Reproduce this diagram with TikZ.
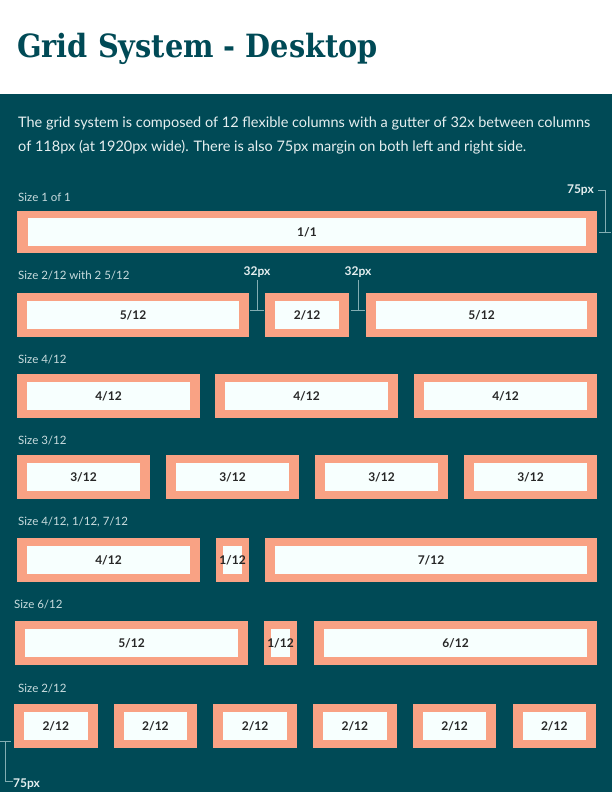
\documentclass[tikz,border=0pt]{standalone}
\usepackage{fontspec}
\setmainfont{Lato}
\newfontfamily\titlefont[FakeStretch=0.9]{DejaVu Serif}
\usetikzlibrary{positioning}

\definecolor{gridteal}{HTML}{004A56}
\definecolor{gutter}{HTML}{F9A284}
\definecolor{colfill}{HTML}{F7FFFE}
\definecolor{bodytext}{HTML}{E6EFF0}
\definecolor{captext}{HTML}{C9DCDE}
\definecolor{dimline}{HTML}{83AEB3}

% name, outer width, inner width, placement, label
\newcommand{\gcell}[5]{%
  \node[cell, minimum width=#2pt, #4] (#1) {};
  \node[cellin, minimum width=#3pt, label={[celltext]center:#5}] (#1-in) at (#1) {};
}

\begin{document}
\begin{tikzpicture}[
    x=1pt, y=-1pt,
    cell/.style={fill=gutter, minimum height=44pt, inner sep=0pt, outer sep=0pt},
    cellin/.style={fill=colfill, minimum height=28pt, inner sep=0pt},
    celltext/.style={inner sep=0pt, font=\fontsize{12}{14}\selectfont\bfseries, text=black!85},
    caption/.style={anchor=west, inner sep=0pt, font=\fontsize{11.5}{13}\selectfont, text=captext},
    dim/.style={inner sep=0pt, font=\fontsize{12}{14}\selectfont\bfseries, text=bodytext},
    bracket/.style={draw=dimline, line width=1pt}
]
\useasboundingbox (0,0) rectangle (612,792);

% Page
\fill[white] (0,0) rectangle (612,94);
\fill[gridteal] (0,94) rectangle (612,792);

% Heading
\node[anchor=base west, inner sep=0pt, text=gridteal, font=\titlefont\bfseries\fontsize{32}{36}\selectfont] (title) at (17,57) {Grid System - Desktop};
\node[anchor=north west, inner sep=0pt, align=left, text=bodytext, font=\fontsize{14.5}{23.5}\selectfont] (intro) at (18,117)
  {The grid system is composed of 12 flexible columns with a gutter of 32x between columns\\of 118px (at 1920px wide). There is also 75px margin on both left and right side.};

% Size 1 of 1
\node[caption] (cap1) at (18,197) {Size 1 of 1};
\gcell{r1a}{580}{558}{anchor=north west, at={(17,211)}, minimum height=42pt}{1/1}

% Size 2/12 with 2 5/12
\node[caption] (cap2) at (18,276) {Size 2/12 with 2 5/12};
\gcell{r2a}{232}{212}{anchor=north west, at={(17,293)}}{5/12}
\gcell{r2b}{84}{64}{right=16pt of r2a}{2/12}
\gcell{r2c}{231}{211}{right=17pt of r2b}{5/12}

% Size 4/12
\node[caption] (cap3) at (18,360) {Size 4/12};
\gcell{r3a}{183}{163}{anchor=north west, at={(17,374)}}{4/12}
\gcell{r3b}{183}{163}{right=15pt of r3a}{4/12}
\gcell{r3c}{183}{163}{right=16pt of r3b}{4/12}

% Size 3/12
\node[caption] (cap4) at (18,441) {Size 3/12};
\gcell{r4a}{133}{113}{anchor=north west, at={(17,455)}}{3/12}
\gcell{r4b}{133}{113}{right=16pt of r4a}{3/12}
\gcell{r4c}{133}{113}{right=16pt of r4b}{3/12}
\gcell{r4d}{133}{113}{right=16pt of r4c}{3/12}

% Size 4/12, 1/12, 7/12
\node[caption] (cap5) at (18,522) {Size 4/12, 1/12, 7/12};
\gcell{r5a}{183}{163}{anchor=north west, at={(17,538)}}{4/12}
\gcell{r5b}{33}{19}{right=16pt of r5a}{1/12}
\gcell{r5c}{332}{312}{right=16pt of r5b}{7/12}

% Size 6/12
\node[caption] (cap6) at (14,605) {Size 6/12};
\gcell{r6a}{233}{213}{anchor=north west, at={(15,621)}}{5/12}
\gcell{r6b}{33}{19}{right=16pt of r6a}{1/12}
\gcell{r6c}{283}{263}{right=17pt of r6b}{6/12}

% Size 2/12
\node[caption] (cap7) at (18,689) {Size 2/12};
\gcell{r7a}{83.5}{63.5}{anchor=north west, at={(14,704)}}{2/12}
\gcell{r7b}{83.5}{63.5}{right=16.2pt of r7a}{2/12}
\gcell{r7c}{83.5}{63.5}{right=16.2pt of r7b}{2/12}
\gcell{r7d}{83.5}{63.5}{right=16.2pt of r7c}{2/12}
\gcell{r7e}{83.5}{63.5}{right=16.2pt of r7d}{2/12}
\gcell{r7f}{83.5}{63.5}{right=16.2pt of r7e}{2/12}

% Margin marks
\node[dim, anchor=east] (mtop) at (594,190) {75px};
\coordinate (mtop-a) at (605.5,190);
\coordinate (mtop-b) at (599,232);
\coordinate (mtop-c) at (611,232);
\draw[bracket] ([xshift=4pt]mtop.east) -- (mtop-a) -- (mtop-a |- mtop-b);
\draw[bracket] (mtop-b) -- (mtop-c);

\node[dim, anchor=west] (mbot) at (13,784) {75px};
\coordinate (mbot-a) at (0,741);
\coordinate (mbot-b) at (11,741);
\coordinate (mbot-c) at (5,741);
\draw[bracket] (mbot-a) -- (mbot-b);
\draw[bracket] (mbot-c) |- ([yshift=3pt]mbot.west);

% Gutter marks
\node[dim] (gapA) at (257,272) {32px};
\coordinate (gapA-l) at (250,310);
\coordinate (gapA-r) at (264,310);
\draw[bracket] ([yshift=-2pt]gapA.south) -- (gapA.south |- gapA-l);
\draw[bracket] (gapA-l) -- (gapA-r);

\node[dim] (gapB) at (358,272) {32px};
\coordinate (gapB-l) at (351,310);
\coordinate (gapB-r) at (365,310);
\draw[bracket] ([yshift=-2pt]gapB.south) -- (gapB.south |- gapB-l);
\draw[bracket] (gapB-l) -- (gapB-r);

\end{tikzpicture}
\end{document}
